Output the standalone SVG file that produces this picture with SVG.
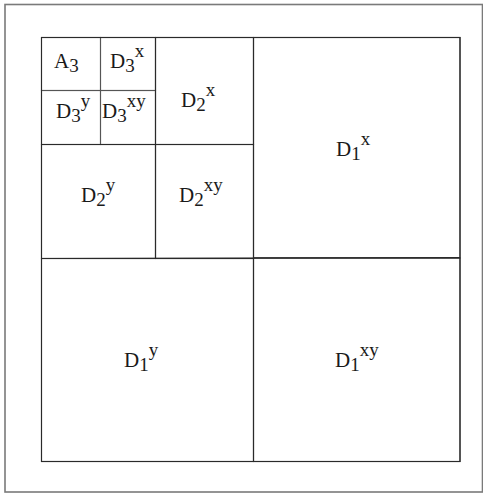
<svg xmlns="http://www.w3.org/2000/svg" width="483" height="494" viewBox="0 0 483 494">
<style>
.cell{fill:none;stroke:#2a2a2a;stroke-width:1.1}
.c3{fill:none;stroke:#555;stroke-width:1.1}
.lbl{font-family:"Liberation Serif","Times New Roman",serif;font-size:21px;fill:#1a1a1a}
.s{font-size:19px}
</style>
<rect x="5" y="4.5" width="477.5" height="487.5" fill="#fff" stroke="#7a7a7a" stroke-width="1.6"/>
<g id="D1x"><rect class="cell" x="253.5" y="37.5" width="206.5" height="220.5"/><text class="lbl" x="336" y="156">D<tspan class="s" dy="4">1</tspan><tspan class="s" dy="-15.5">x</tspan></text></g>
<g id="D1y"><rect class="cell" x="41.5" y="258.5" width="212" height="203"/><text class="lbl" x="124" y="367">D<tspan class="s" dy="4">1</tspan><tspan class="s" dy="-15.5">y</tspan></text></g>
<g id="D1xy"><rect class="cell" x="253.5" y="258" width="206.5" height="203.5"/><text class="lbl" x="335" y="367">D<tspan class="s" dy="4">1</tspan><tspan class="s" dy="-15.5">xy</tspan></text></g>
<g id="D2x"><rect class="cell" x="155.5" y="37.5" width="98" height="107"/><text class="lbl" x="181" y="107">D<tspan class="s" dy="4">2</tspan><tspan class="s" dy="-15.5">x</tspan></text></g>
<g id="D2y"><rect class="cell" x="41.5" y="144.5" width="114" height="114"/><text class="lbl" x="81" y="202">D<tspan class="s" dy="4">2</tspan><tspan class="s" dy="-15.5">y</tspan></text></g>
<g id="D2xy"><rect class="cell" x="155.5" y="144.5" width="98" height="114"/><text class="lbl" x="179" y="202">D<tspan class="s" dy="4">2</tspan><tspan class="s" dy="-15.5">xy</tspan></text></g>
<g id="A3"><rect class="c3" x="41.5" y="37.5" width="59" height="53"/><text class="lbl" x="54" y="68">A<tspan class="s" dy="4">3</tspan></text></g>
<g id="D3x"><rect class="c3" x="100.5" y="37.5" width="55" height="53"/><text class="lbl" x="110" y="68">D<tspan class="s" dy="4">3</tspan><tspan class="s" dy="-15.5">x</tspan></text></g>
<g id="D3y"><rect class="c3" x="41.5" y="90.5" width="59" height="54"/><text class="lbl" x="56" y="118">D<tspan class="s" dy="4">3</tspan><tspan class="s" dy="-15.5">y</tspan></text></g>
<g id="D3xy"><rect class="c3" x="100.5" y="90.5" width="55" height="54"/><text class="lbl" x="102" y="118">D<tspan class="s" dy="4">3</tspan><tspan class="s" dy="-15.5">xy</tspan></text></g>
<g id="connectors">
<rect class="cell" x="41.5" y="37.5" width="418.5" height="424"/>
<line class="cell" x1="253.5" y1="37.5" x2="253.5" y2="461.5"/>
<line class="cell" x1="41.5" y1="258.5" x2="460" y2="257.5"/>
<line class="cell" x1="155.5" y1="37.5" x2="155.5" y2="258.5"/>
<line class="cell" x1="41.5" y1="144.5" x2="253.5" y2="144.5"/>
</g>
</svg>
